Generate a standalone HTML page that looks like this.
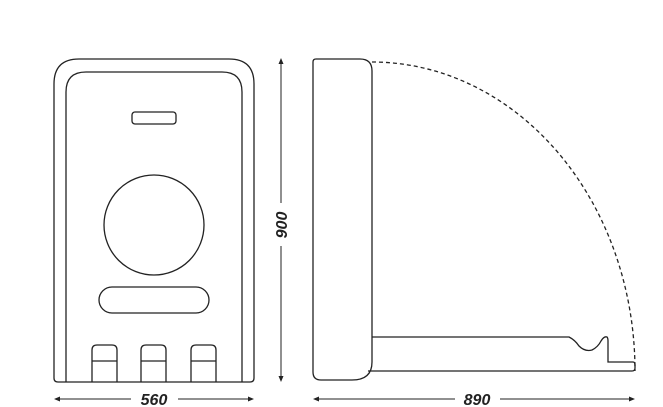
<!DOCTYPE html>
<html><head><style>body{margin:0;background:#fff}svg{display:block}</style></head><body>
<svg width="663" height="407" viewBox="0 0 663 407" xmlns="http://www.w3.org/2000/svg">
<g fill="none" stroke="#222" stroke-width="1.3">
<path d="M54 378 V84 Q54 59 79 59 H229 Q254 59 254 84 V378 Q254 382 250 382 H58 Q54 382 54 378Z"/>
<path d="M66 382 V92 Q66 72 86 72 H222 Q242 72 242 92 V382"/>
<rect x="132" y="112" width="44" height="12" rx="3"/>
<circle cx="154" cy="225" r="50"/>
<rect x="99" y="287" width="110" height="26" rx="13"/>
<path d="M92 382 V350 Q92 345 97 345 H112 Q117 345 117 350 V382 M92 361 H117"/>
<path d="M141 382 V350 Q141 345 146 345 H161 Q166 345 166 350 V382 M141 361 H166"/>
<path d="M191 382 V350 Q191 345 196 345 H211 Q216 345 216 350 V382 M191 361 H216"/>
<path d="M313 372 V62 Q313 59 316 59 H360 Q372 59 372 71 V362 Q372 380 352 380 H321 Q313 380 313 372Z"/>
<path d="M372 337 H569 Q575 340 579 346 Q585 352 592 350 Q598 347 601 341 Q604 336 607 337 Q608 338 608 341 V362 H633 Q635 362 635 365 V368 Q635 371 632 371 H368"/>
<path d="M372 62 A263 309 0 0 1 635 371" stroke-dasharray="4 3"/>
<path d="M281 62 V203 M281 246 V378 M57 399 H131 M178 399 H251 M316 399 H455 M500 399 H631" stroke-width="1"/>
</g>
<g fill="#222">
<path d="M281 58 L278.5 64 H283.5Z M281 382 L278.5 376 H283.5Z M54 399 L60 396.5 V401.5Z M254 399 L248 396.5 V401.5Z M313 399 L319 396.5 V401.5Z M635 399 L629 396.5 V401.5Z"/>
</g>
<g font-family="Liberation Sans, sans-serif" font-style="italic" font-weight="bold" font-size="16" fill="#222" text-anchor="middle">
<text x="154" y="405">560</text>
<text x="477" y="405">890</text>
<text transform="translate(287 225) rotate(-90)" x="0" y="0">900</text>
</g>
</svg>
</body></html>
